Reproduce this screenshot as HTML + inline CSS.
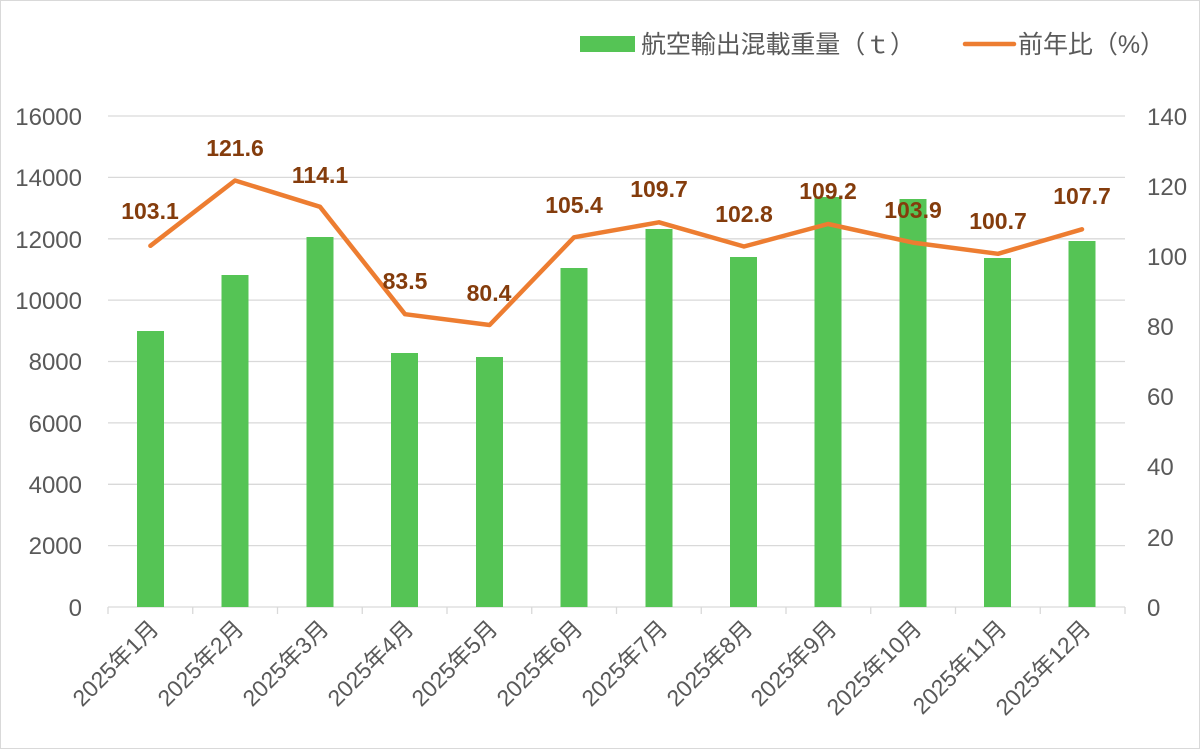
<!DOCTYPE html>
<html><head><meta charset="utf-8"><style>
body{margin:0;background:#fff}
svg{display:block}
text{font-family:"Liberation Sans","Noto Sans CJK JP",sans-serif}
</style></head><body>
<svg width="1200" height="749" viewBox="0 0 1200 749" xmlns="http://www.w3.org/2000/svg">
<rect x="0.5" y="0.5" width="1199" height="748" fill="#fff" stroke="#d9d9d9"/>
<g stroke="#d9d9d9" stroke-width="1.3">
<line x1="108" x2="1125" y1="116" y2="116"/>
<line x1="108" x2="1125" y1="177.4" y2="177.4"/>
<line x1="108" x2="1125" y1="238.8" y2="238.8"/>
<line x1="108" x2="1125" y1="300.1" y2="300.1"/>
<line x1="108" x2="1125" y1="361.5" y2="361.5"/>
<line x1="108" x2="1125" y1="422.9" y2="422.9"/>
<line x1="108" x2="1125" y1="484.3" y2="484.3"/>
<line x1="108" x2="1125" y1="545.6" y2="545.6"/>
<line x1="108" x2="1125" y1="607" y2="607"/>
<line x1="108" x2="108" y1="607" y2="614"/>
<line x1="192.75" x2="192.75" y1="607" y2="614"/>
<line x1="277.5" x2="277.5" y1="607" y2="614"/>
<line x1="362.25" x2="362.25" y1="607" y2="614"/>
<line x1="447" x2="447" y1="607" y2="614"/>
<line x1="531.75" x2="531.75" y1="607" y2="614"/>
<line x1="616.5" x2="616.5" y1="607" y2="614"/>
<line x1="701.25" x2="701.25" y1="607" y2="614"/>
<line x1="786" x2="786" y1="607" y2="614"/>
<line x1="870.75" x2="870.75" y1="607" y2="614"/>
<line x1="955.5" x2="955.5" y1="607" y2="614"/>
<line x1="1040.25" x2="1040.25" y1="607" y2="614"/>
<line x1="1125" x2="1125" y1="607" y2="614"/>
</g>
<g fill="#55c455">
<rect x="137" y="331" width="27" height="276"/>
<rect x="221.5" y="275" width="27" height="332"/>
<rect x="306.5" y="237" width="27" height="370"/>
<rect x="391" y="353" width="27" height="254"/>
<rect x="476" y="357" width="27" height="250"/>
<rect x="560.5" y="268" width="27" height="339"/>
<rect x="645.5" y="229" width="27" height="378"/>
<rect x="730" y="257" width="27" height="350"/>
<rect x="814.5" y="197" width="27" height="410"/>
<rect x="899.5" y="199" width="27" height="408"/>
<rect x="984" y="258" width="27" height="349"/>
<rect x="1068.5" y="241" width="27" height="366"/>
</g>
<polyline fill="none" stroke="#ed7d31" stroke-width="4.5" stroke-linejoin="round" stroke-linecap="round"
points="150.4,245.8 235,180.5 320,206.8 405,314.2 489.6,325 574,237.3 659,222.3 744,246.5 828,224 913,242.6 998,253.8 1082,229.3"/>
<g fill="#843c0c" font-weight="bold" font-size="23" text-anchor="middle">
<text x="150" y="219">103.1</text>
<text x="235" y="156">121.6</text>
<text x="320" y="183">114.1</text>
<text x="405" y="289">83.5</text>
<text x="489" y="301">80.4</text>
<text x="574" y="213">105.4</text>
<text x="659" y="197">109.7</text>
<text x="744" y="222">102.8</text>
<text x="828" y="199">109.2</text>
<text x="913" y="218">103.9</text>
<text x="998" y="229">100.7</text>
<text x="1082" y="204">107.7</text>
</g>
<g fill="#595959" font-size="24" text-anchor="end">
<text x="82" y="125">16000</text>
<text x="82" y="186">14000</text>
<text x="82" y="248">12000</text>
<text x="82" y="309">10000</text>
<text x="82" y="370">8000</text>
<text x="82" y="432">6000</text>
<text x="82" y="493">4000</text>
<text x="82" y="554">2000</text>
<text x="82" y="616">0</text>
</g>
<g fill="#595959" font-size="24" text-anchor="start">
<text x="1147" y="125">140</text>
<text x="1147" y="195">120</text>
<text x="1147" y="265">100</text>
<text x="1147" y="335">80</text>
<text x="1147" y="405">60</text>
<text x="1147" y="475">40</text>
<text x="1147" y="546">20</text>
<text x="1147" y="616">0</text>
</g>
<g fill="#595959" font-size="23" text-anchor="end">
<text transform="translate(160,630) rotate(-45)">2025年1月</text>
<text transform="translate(245,630) rotate(-45)">2025年2月</text>
<text transform="translate(330,630) rotate(-45)">2025年3月</text>
<text transform="translate(415,630) rotate(-45)">2025年4月</text>
<text transform="translate(499,630) rotate(-45)">2025年5月</text>
<text transform="translate(584,630) rotate(-45)">2025年6月</text>
<text transform="translate(669,630) rotate(-45)">2025年7月</text>
<text transform="translate(754,630) rotate(-45)">2025年8月</text>
<text transform="translate(838,630) rotate(-45)">2025年9月</text>
<text transform="translate(923,630) rotate(-45)">2025年10月</text>
<text transform="translate(1008,630) rotate(-45)">2025年11月</text>
<text transform="translate(1092,630) rotate(-45)">2025年12月</text>
</g>
<rect x="580" y="36" width="55" height="16" fill="#55c455"/>
<text x="641" y="53" fill="#595959" font-size="25" textLength="274" lengthAdjust="spacing">航空輸出混載重量（ｔ）</text>
<line x1="965" x2="1014" y1="44" y2="44" stroke="#ed7d31" stroke-width="4.5" stroke-linecap="round"/>
<text x="1018" y="53" fill="#595959" font-size="25" textLength="147" lengthAdjust="spacing">前年比（%）</text>
</svg>
</body></html>
